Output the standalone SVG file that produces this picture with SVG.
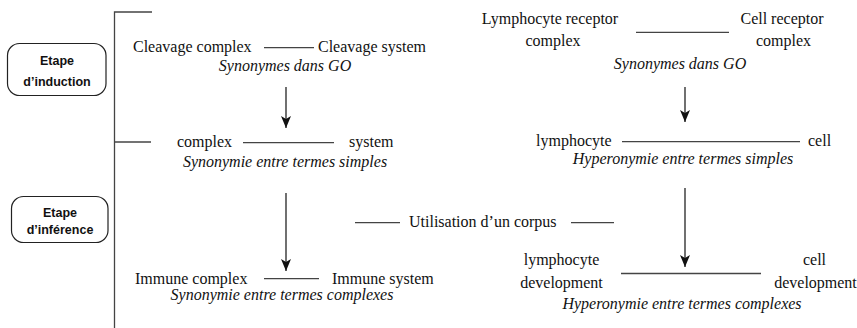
<svg xmlns="http://www.w3.org/2000/svg" width="857" height="328" viewBox="0 0 857 328">
<style>
.t{font-family:"Liberation Serif","Times New Roman",serif;font-size:16px;fill:#111}
.i{font-style:italic}
.m{text-anchor:middle}
.b{font-family:"Liberation Sans",Arial,sans-serif;font-size:12.5px;font-weight:bold;fill:#111;text-anchor:middle}
.box{fill:#fff;stroke:#222;stroke-width:1.2}
.ln{stroke:#444;stroke-width:1.3;fill:none}
.ar{stroke:#111;stroke-width:1.2;fill:none;marker-end:url(#ah)}
</style>
<defs>
<marker id="ah" markerWidth="12" markerHeight="10" refX="12" refY="5" orient="auto" markerUnits="userSpaceOnUse" viewBox="0 0 12 10">
<path d="M0,0 L12,5 L0,10 L3,5 Z" fill="#111"/>
</marker>
</defs>
<rect width="857" height="328" fill="#fff"/>
<g id="bracket">
<path class="ln" d="M152,12 H114.5 V328"/>
<path class="ln" d="M114.5,142 H151"/>
</g>
<g id="etape-induction">
<rect class="box" x="7.5" y="43.5" width="98.5" height="52" rx="12"/>
<text class="b" x="57" y="65">Etape</text>
<text class="b" x="57" y="86">d’induction</text>
</g>
<g id="etape-inference">
<rect class="box" x="11.5" y="196.5" width="96.5" height="46" rx="12"/>
<text class="b" x="60" y="217">Etape</text>
<text class="b" x="60" y="234">d’inférence</text>
</g>
<g id="go-left">
<text class="t" x="133" y="52">Cleavage complex</text>
<text class="t" x="318" y="52">Cleavage system</text>
<text class="t i m" x="285" y="71">Synonymes dans GO</text>
</g>
<g id="simple-left">
<text class="t" x="177" y="147">complex</text>
<text class="t" x="349" y="147">system</text>
<text class="t i m" x="285" y="167">Synonymie entre termes simples</text>
</g>
<g id="complex-left">
<text class="t" x="135" y="284">Immune complex</text>
<text class="t" x="332" y="284">Immune system</text>
<text class="t i m" x="282" y="300">Synonymie entre termes complexes</text>
</g>
<g id="go-right">
<text class="t m" x="550" y="24">Lymphocyte receptor</text>
<text class="t m" x="553" y="45.5">complex</text>
<text class="t m" x="782" y="24">Cell receptor</text>
<text class="t m" x="783.5" y="45.5">complex</text>
<text class="t i m" x="680" y="69">Synonymes dans GO</text>
</g>
<g id="simple-right">
<text class="t" x="536" y="146">lymphocyte</text>
<text class="t" x="808" y="146">cell</text>
<text class="t i m" x="683" y="164">Hyperonymie entre termes simples</text>
</g>
<g id="complex-right">
<text class="t m" x="561.5" y="265">lymphocyte</text>
<text class="t m" x="561.5" y="288">development</text>
<text class="t m" x="814.5" y="265">cell</text>
<text class="t m" x="815.5" y="288">development</text>
<text class="t i m" x="682" y="309">Hyperonymie entre termes complexes</text>
</g>
<g id="corpus">
<text class="t" x="409" y="227">Utilisation d’un corpus</text>
</g>
<g id="connectors">
<path class="ln" d="M264,47.7 H314"/>
<path class="ln" d="M243,142.7 H334"/>
<path class="ln" d="M264,278.7 H319"/>
<path class="ln" d="M636,32.3 H729"/>
<path class="ln" d="M622,141.7 H800"/>
<path class="ln" d="M621,273.5 H761"/>
<path class="ln" d="M355,222.7 H400"/>
<path class="ln" d="M571,222.7 H614"/>
<path class="ar" d="M286,87 V128"/>
<path class="ar" d="M286,193 V271"/>
<path class="ar" d="M685,87 V122"/>
<path class="ar" d="M685,188 V267"/>
</g>
</svg>
